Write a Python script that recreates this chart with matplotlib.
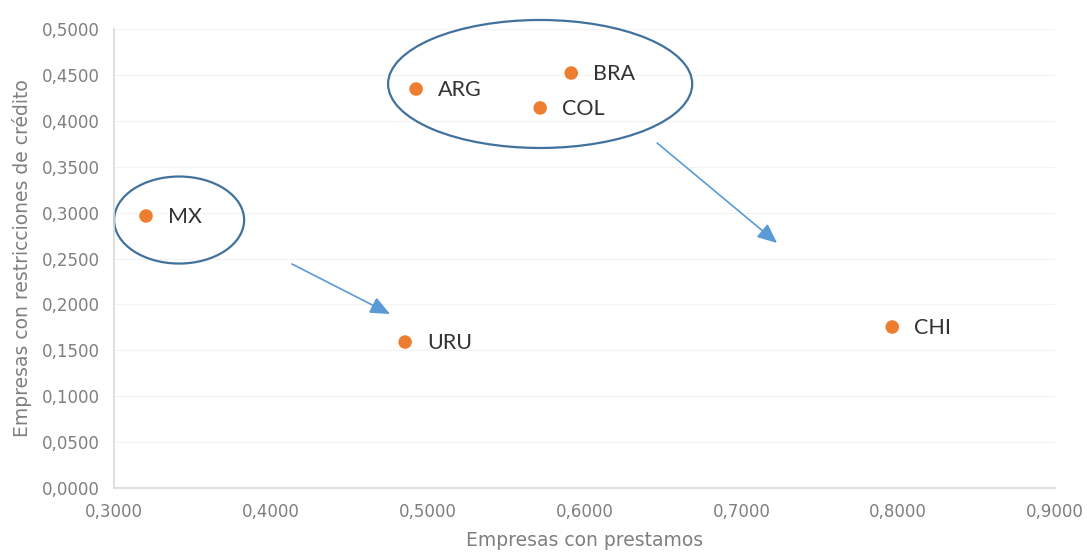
import matplotlib
matplotlib.use("Agg")
import matplotlib.pyplot as plt
from matplotlib.patches import Ellipse
from matplotlib.ticker import FuncFormatter

# Share of firms with loans vs. share of firms with credit restrictions
paises = ["MX", "URU", "ARG", "BRA", "COL", "CHI"]
con_prestamos = [0.3204, 0.4856, 0.4926, 0.5915, 0.5717, 0.7962]
con_restricciones = [0.2963, 0.1590, 0.4346, 0.4520, 0.4140, 0.1754]

x_ticks = [0.3, 0.4, 0.5, 0.6, 0.7, 0.8, 0.9]
y_ticks = [0.0, 0.05, 0.10, 0.15, 0.20, 0.25, 0.30, 0.35, 0.40, 0.45, 0.50]

fig = plt.figure(figsize=(10.87, 5.52), dpi=100)
ax = fig.add_axes([0.1049, 0.1159, 0.8657, 0.8316])

ax.scatter(con_prestamos, con_restricciones, s=95, color="#ed7d31", zorder=3,
           edgecolors="none")
for nombre, xv, yv in zip(paises, con_prestamos, con_restricciones):
    ax.annotate(nombre, (xv, yv), xytext=(16, -1), textcoords="offset points",
                va="center", ha="left", fontsize=15.5, color="#333333",
                family=["Lato", "DejaVu Sans"])

# Group outlines
ax.add_patch(Ellipse((0.3415, 0.2919), 0.0829, 0.0948, fill=False,
                     edgecolor="#41719c", linewidth=1.6, zorder=2,
                     clip_on=False))
ax.add_patch(Ellipse((0.5717, 0.4401), 0.1939, 0.1394, fill=False,
                     edgecolor="#41719c", linewidth=1.6, zorder=2,
                     clip_on=False))

# Movement arrows
flecha = dict(arrowstyle="-|>,head_length=0.8,head_width=0.35",
              mutation_scale=15, color="#5b9bd5", lw=1.2,
              shrinkA=0, shrinkB=0)
ax.annotate("", xy=(0.4760, 0.1895), xytext=(0.4135, 0.2440), arrowprops=flecha)
ax.annotate("", xy=(0.7228, 0.2669), xytext=(0.6463, 0.3758), arrowprops=flecha)

ax.set_xlim(0.3, 0.9)
ax.set_ylim(0.0, 0.5)
ax.set_xticks(x_ticks)
ax.set_yticks(y_ticks)
fmt = FuncFormatter(lambda v, p: f"{v:.4f}".replace(".", ","))
ax.xaxis.set_major_formatter(fmt)
ax.yaxis.set_major_formatter(fmt)

ax.grid(axis="y", color="#f3f3f3", linewidth=0.8)
ax.set_axisbelow(True)
for lado in ["top", "right"]:
    ax.spines[lado].set_visible(False)
for lado in ["left", "bottom"]:
    ax.spines[lado].set_color("#d9d9d9")
    ax.spines[lado].set_linewidth(1.2)

ax.tick_params(length=0, labelsize=12, labelcolor="#7f7f7f")
ax.tick_params(axis="y", pad=10)
ax.tick_params(axis="x", pad=11)
for lbl in ax.get_xticklabels() + ax.get_yticklabels():
    lbl.set_family("DejaVu Sans")

ax.set_xlabel("Empresas con prestamos", fontsize=13.5, color="#7f7f7f",
              family="DejaVu Sans", labelpad=7)
ax.set_ylabel("Empresas con restricciones de crédito", fontsize=13.5,
              color="#7f7f7f", family="DejaVu Sans")
ax.yaxis.set_label_coords(-0.087, 0.5)

fig.savefig("out.png", dpi=100)
